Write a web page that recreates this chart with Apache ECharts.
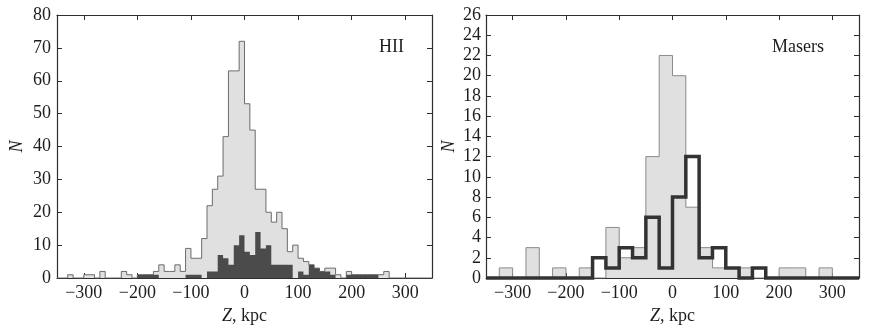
<!DOCTYPE html>
<html><head><meta charset="utf-8">
<script src="https://cdn.jsdelivr.net/npm/echarts@6.0.0/dist/echarts.min.js"></script>
<style>html,body{margin:0;padding:0;background:#fff}#c{width:872px;height:332px}</style>
</head><body><div id="c"></div>
<script>
// ---- data ----
const hiiStart = -350, hiiWidth = 10;           // bin left edge / width (kpc)
// all HII regions, bins -350..350 step 10
const hiiAll = [
  0, 0, 1, 0, 0, 1, 1, 0, 2, 0,        // -350..-260
  0, 0, 2, 1, 0, 1, 1, 1, 2, 4,        // -250..-160
  2, 2, 4, 2, 9, 6, 6, 12, 22, 27,     // -150..-60
  31, 43, 63, 63, 72, 53, 45, 27, 27, 20, // -50..40
  17, 20, 15, 8, 10, 6, 5, 4, 3, 2,    // 50..140
  3, 3, 1, 0, 2, 1, 1, 1, 1, 1,        // 150..240
  1, 2, 0, 0, 0, 0, 0, 0, 0, 0         // 250..340
];
// subsample (dark histogram)
const hiiSub = [
  0, 0, 0, 0, 0, 0, 0, 0, 0, 0,        // -350..-260
  0, 0, 0, 0, 0, 1, 1, 1, 1, 0,        // -250..-160
  0, 0, 0, 0, 1, 1, 1, 0, 2, 2,        // -150..-60
  7, 6, 4, 10, 13, 8, 7, 14, 9, 10,    // -50..40
  4, 4, 4, 4, 0, 2, 1, 4, 3, 2,        // 50..140
  2, 1, 0, 0, 1, 1, 1, 1, 1, 1,        // 150..240
  0, 0, 0, 0, 0, 0, 0, 0, 0, 0         // 250..340
];
const maserStart = -350, maserWidth = 25;
const masersAll = [
  0, 1, 0, 3, 0, 1, 0, 1, 0, 5, 2, 3, 12, 22,   // -350..-25
  20, 7, 3, 1, 1, 1, 0, 0, 1, 1, 0, 1, 0, 0     // 0..325
];
const masersSub = [
  0, 0, 0, 0, 0, 0, 0, 0, 2, 1, 3, 2, 6, 1,     // -350..-25
  8, 12, 2, 3, 1, 0, 1, 0, 0, 0, 0, 0, 0, 0     // 0..325
];
const xTicks = [-300, -200, -100, 0, 100, 200, 300];
const panelLabels = ['HII', 'Masers'];

// ---- helpers ----
function stepData(start, width, counts) {
  const d = counts.map((c, i) => [start + i * width, c]);
  d.push([start + counts.length * width, counts[counts.length - 1]]);
  return d;
}
const FONT = 'Liberation Serif';
const AX = '#2e2e2e';
const TXT = '#1e1e1e';
const axLine = { show: true, onZero: false, lineStyle: { color: AX, width: 1.2 } };
function xAxes(grid) {
  return [
    { type: 'value', gridIndex: grid, min: -350, max: 350, interval: 50, position: 'bottom',
      axisLine: axLine,
      axisTick: { inside: true, length: 5, customValues: xTicks, lineStyle: { color: AX, width: 1 } },
      axisLabel: { customValues: xTicks, formatter: v => String(v).replace('-', '\u2212'),
        fontFamily: FONT, fontSize: 18, color: TXT, margin: 6 },
      splitLine: { show: false },
      name: '{i|Z}, kpc', nameLocation: 'middle', nameGap: 24,
      nameTextStyle: { fontFamily: FONT, fontSize: 18, color: TXT,
        rich: { i: { fontFamily: FONT, fontSize: 18, fontStyle: 'italic', color: TXT } } } },
    { type: 'value', gridIndex: grid, min: -350, max: 350, interval: 50, position: 'top',
      axisLine: axLine,
      axisTick: { inside: true, length: 5, customValues: xTicks, lineStyle: { color: AX, width: 1 } },
      axisLabel: { show: false }, splitLine: { show: false } }
  ];
}
function yAxes(grid, max, interval, gap, margin) {
  return [
    { type: 'value', gridIndex: grid, min: 0, max: max, interval: interval, position: 'left',
      axisLine: axLine,
      axisTick: { show: true, inside: true, length: 5, lineStyle: { color: AX, width: 1 } },
      axisLabel: { fontFamily: FONT, fontSize: 18, color: TXT, margin: margin },
      splitLine: { show: false },
      name: 'N', nameLocation: 'middle', nameGap: gap, nameRotate: 90,
      nameTextStyle: { fontFamily: FONT, fontSize: 18, fontStyle: 'italic', color: TXT } },
    { type: 'value', gridIndex: grid, min: 0, max: max, interval: interval, position: 'right',
      axisLine: axLine,
      axisTick: { show: true, inside: true, length: 5, lineStyle: { color: AX, width: 1 } },
      axisLabel: { show: false }, splitLine: { show: false } }
  ];
}

const chart = echarts.init(document.getElementById('c'), null, { renderer: 'canvas' });
chart.setOption({
  animation: false,
  backgroundColor: '#fff',
  grid: [
    { left: 57, top: 15, width: 375, height: 263 },
    { left: 486, top: 15, width: 373, height: 263 }
  ],
  xAxis: [...xAxes(0), ...xAxes(1)],
  yAxis: [...yAxes(0, 80, 10, 31, 6), ...yAxes(1, 26, 2, 28, 5)],
  graphic: [
    { type: 'text', left: 379, top: 38, style: { text: panelLabels[0], font: '18px "Liberation Serif"', fill: TXT } },
    { type: 'text', left: 772, top: 38, style: { text: panelLabels[1], font: '18px "Liberation Serif"', fill: TXT } }
  ],
  series: [
    { type: 'line', xAxisIndex: 0, yAxisIndex: 0, step: 'end', symbol: 'none',
      data: stepData(hiiStart, hiiWidth, hiiAll),
      lineStyle: { color: '#6c6c6c', width: 1 }, areaStyle: { color: '#e0e0e0', opacity: 1 }, z: 2 },
    { type: 'line', xAxisIndex: 0, yAxisIndex: 0, step: 'end', symbol: 'none',
      data: stepData(hiiStart, hiiWidth, hiiSub),
      lineStyle: { width: 0 }, areaStyle: { color: '#4b4b4b', opacity: 1 }, z: 3 },
    { type: 'line', xAxisIndex: 2, yAxisIndex: 2, step: 'end', symbol: 'none',
      data: stepData(maserStart, maserWidth, masersAll),
      lineStyle: { color: '#8a8a8a', width: 1 }, areaStyle: { color: '#e0e0e0', opacity: 1 }, z: 2 },
    { type: 'line', xAxisIndex: 2, yAxisIndex: 2, step: 'end', symbol: 'none', clip: false,
      data: stepData(maserStart, maserWidth, masersSub),
      lineStyle: { color: '#333', width: 3.5, join: 'miter' }, z: 4 }
  ]
});
</script></body></html>
